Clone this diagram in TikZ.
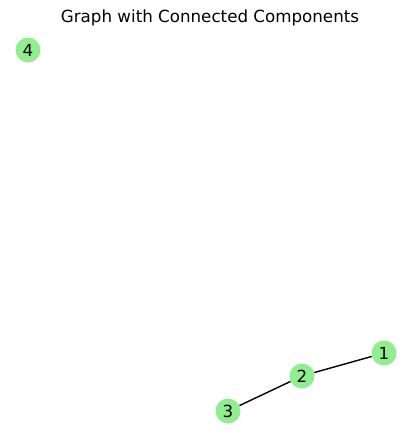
\documentclass[tikz,border=0pt]{standalone}
\usepackage{fontspec}
\setmainfont{DejaVu Sans}
\usetikzlibrary{positioning}
\definecolor{my_lightgreen}{RGB}{144, 238, 144}
\tikzset {
  vertex/.style = {circle, fill=my_lightgreen, minimum size=25pt, inner sep=0pt, font=\fontsize{16.7}{20}\selectfont},
  line/.style = {-, line width=1.4pt, color=black},
  title/.style = {font=\fontsize{16.7}{20}\selectfont}
}

\begin{document}
\begin{tikzpicture}[x=1pt, y=-1pt]

    \useasboundingbox (0,0) rectangle (419,442);
    \node[title, name=caption] (caption) at (210,18) {Graph with Connected Components};

    \node[vertex, name=v1] (v1) at (384,353) {1};
    \node[vertex, name=v2] (v2) at (302,376) {2};
    \node[vertex, name=v3] (v3) at (228,411) {3};
    \node[vertex, name=v4] (v4) at (28,50) {4};

    \draw[line] (v1) -- (v2);
    \draw[line] (v2) -- (v3);

  \end{tikzpicture}
\end{document}
